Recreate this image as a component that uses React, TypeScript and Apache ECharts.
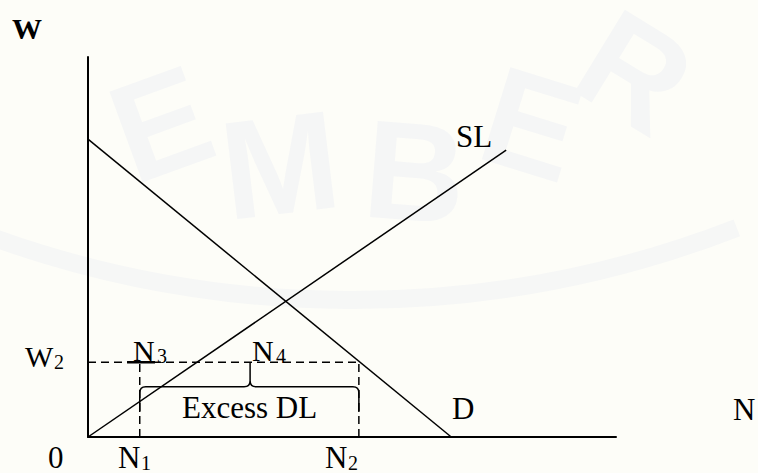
import React, { useEffect, useRef } from "react";
import * as echarts from "echarts";

// Abstract units: N axis 0..100, W axis 0..100
const demandLine: number[][] = [[0, 78.4], [68.8, 0]];
const supplyLine: number[][] = [[0, 0], [79.2, 75.5]];
const wageLevels = { W2: 19.7 };
const employment = { N1: 9.8, N2: 51.3 };
const n3Mark: number[][] = [[7.4, 19.7], [12.7, 19.7]];
const braceValues: number[] = [9.8, 51.3, 30.7, 13.2, 6.6, 19.7]; // left, right, mid, level, end level, tip
const watermarkLetters = ["E", "M", "B", "E", "R"];

function txt(text: string, x: number, y: number, size: number, bold = false) {
  return {
    type: "text",
    x,
    y,
    z: 100,
    style: {
      text,
      fill: "#000",
      font: `${bold ? "bold " : ""}${size}px 'Liberation Serif', serif`,
      align: "left",
      verticalAlign: "middle",
    },
  };
}

function wm(text: string, x: number, y: number, rot: number) {
  return {
    type: "text",
    x,
    y,
    rotation: rot,
    z: 0,
    style: {
      text,
      fill: "#f5f6f6",
      font: "bold 140px 'Liberation Sans', sans-serif",
      align: "center",
      verticalAlign: "middle",
    },
  };
}

export default function App() {
  const ref = useRef<HTMLDivElement>(null);
  useEffect(() => {
    document.body.style.margin = "0";
    const chart = echarts.init(ref.current!, null, { renderer: "svg" });
    const wmPos = [
      [161, 124, 0.35],
      [280, 165, 0.12],
      [415, 172, -0.08],
      [532, 124, -0.3],
      [635, 72, -0.55],
    ];
    const black = "#000";
    const lineSeries = (data: number[][], width: number, type: any = "solid") => ({
      type: "line",
      data,
      symbol: "none",
      silent: true,
      lineStyle: { color: black, width, type },
      z: 5,
    });
    chart.setOption({
      animation: false,
      backgroundColor: "#fdfdf8",
      grid: { left: 88, top: 57, width: 528, height: 380 },
      xAxis: {
        type: "value",
        min: 0,
        max: 100,
        axisLine: { show: true, onZero: false, lineStyle: { color: black, width: 2 } },
        axisTick: { show: false },
        axisLabel: { show: false },
        splitLine: { show: false },
      },
      yAxis: {
        type: "value",
        min: 0,
        max: 100,
        axisLine: { show: true, onZero: false, lineStyle: { color: black, width: 2 } },
        axisTick: { show: false },
        axisLabel: { show: false },
        splitLine: { show: false },
      },
      graphic: [
        {
          type: "arc",
          z: 0,
          shape: { cx: 352, cy: -762, r: 1062, startAngle: 1.2, endAngle: 1.95, clockwise: true },
          style: { stroke: "#f6f7f6", lineWidth: 18, fill: "none" },
        },
        ...watermarkLetters.map((l, i) => wm(l, wmPos[i][0], wmPos[i][1], wmPos[i][2])),
        txt("W", 12, 28, 30, true),
        txt("SL", 456, 136, 31),
        txt("W", 25, 356, 30),
        txt("2", 54, 362, 20),
        txt("0", 48, 457, 31),
        txt("N", 118, 457, 31),
        txt("1", 141, 463, 20),
        txt("N", 325, 457, 31),
        txt("2", 348, 463, 20),
        txt("N", 133, 350, 30),
        txt("3", 157, 356, 20),
        txt("N", 252, 350, 30),
        txt("4", 276, 356, 20),
        txt("Excess DL", 182, 407, 31),
        txt("D", 452, 408, 31),
        txt("N", 733, 409, 31),
      ],
      series: [
        lineSeries(demandLine, 1.5),
        lineSeries(supplyLine, 1.5),
        lineSeries([[0, wageLevels.W2], [employment.N2, wageLevels.W2]], 1.5, [8, 5]),
        lineSeries([[employment.N1, 0], [employment.N1, wageLevels.W2]], 1.5, [8, 5]),
        lineSeries([[employment.N2, 0], [employment.N2, wageLevels.W2]], 1.5, [8, 5]),
        lineSeries(n3Mark, 2.5),
        {
          type: "custom",
          silent: true,
          z: 6,
          data: [braceValues],
          renderItem: (params: any, api: any) => {
            const a = api.coord([api.value(0), api.value(3)]);
            const b = api.coord([api.value(1), api.value(3)]);
            const m = api.coord([api.value(2), api.value(3)]);
            const yEnd = api.coord([0, api.value(4)])[1];
            const yTip = api.coord([0, api.value(5)])[1];
            const r = 6;
            const y = a[1];
            const d =
              `M${a[0]},${yEnd} L${a[0]},${y + r} Q${a[0]},${y} ${a[0] + r},${y} ` +
              `L${m[0] - r},${y} Q${m[0]},${y} ${m[0]},${y - r} L${m[0]},${yTip} ` +
              `M${m[0]},${y - r} Q${m[0]},${y} ${m[0] + r},${y} ` +
              `L${b[0] - r},${y} Q${b[0]},${y} ${b[0]},${y + r} L${b[0]},${yEnd}`;
            return {
              type: "path",
              shape: { pathData: d },
              style: { stroke: black, fill: "none", lineWidth: 1.5 },
            };
          },
        },
      ],
    });
    return () => chart.dispose();
  }, []);
  return <div ref={ref} style={{ width: 758, height: 473 }} />;
}
